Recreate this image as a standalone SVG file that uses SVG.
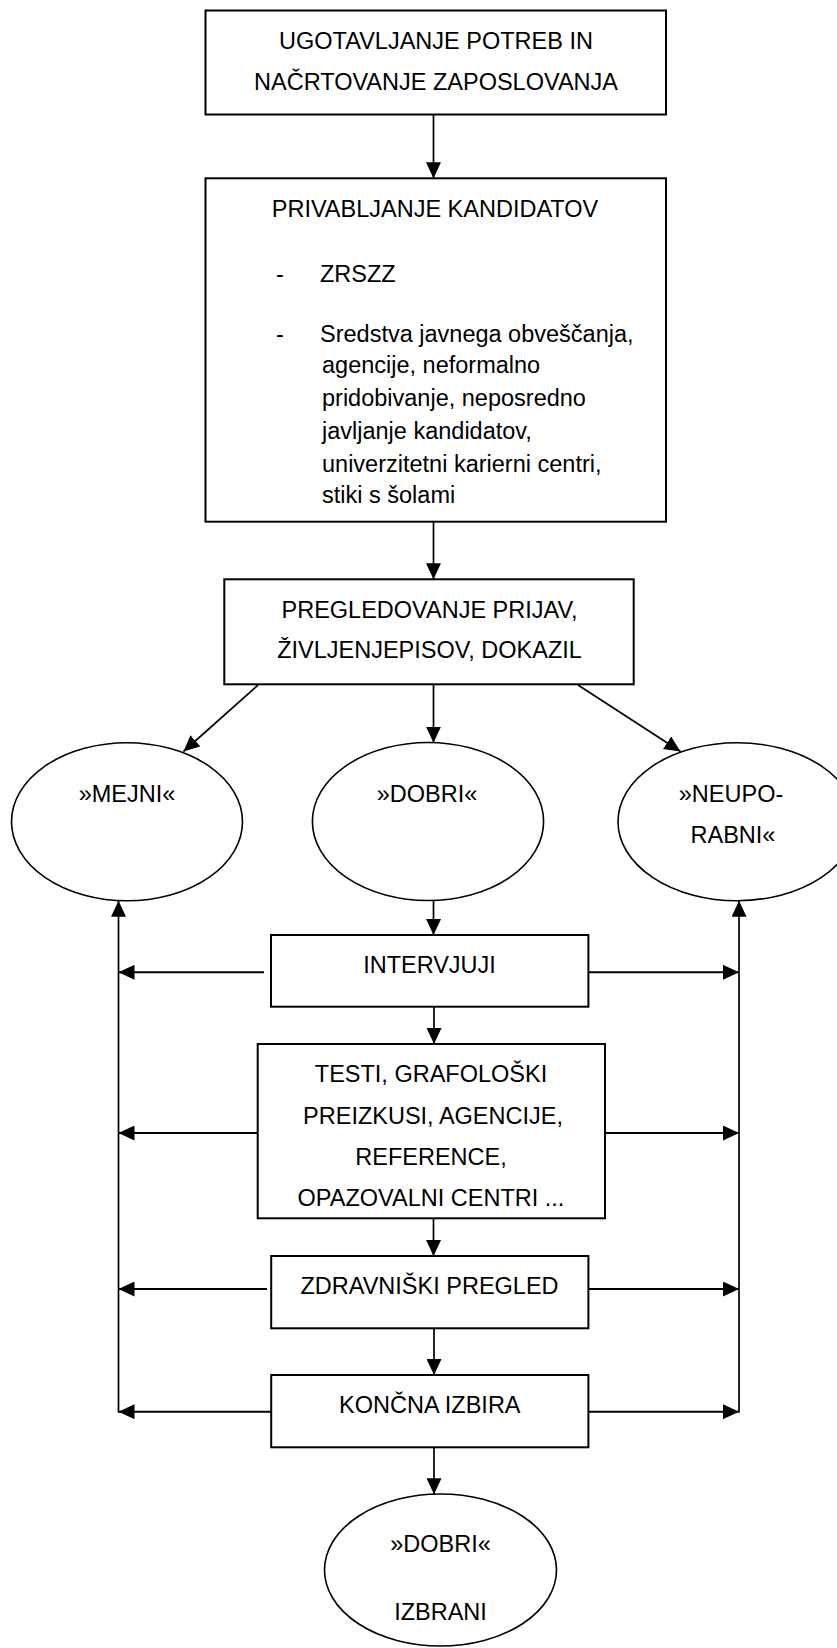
<svg xmlns="http://www.w3.org/2000/svg" width="837" height="1648" viewBox="0 0 837 1648">
<defs>
<marker id="ah" markerWidth="16" markerHeight="15" refX="16" refY="7.5" orient="auto" markerUnits="userSpaceOnUse">
<path d="M0,0 L16,7.5 L0,15 z" fill="#000"/>
</marker>
<style>
.box{fill:#fff;stroke:#000;stroke-width:2}
.ell{fill:#fff;stroke:#000;stroke-width:1.6}
.t{font-family:"Liberation Sans",Arial,sans-serif;font-size:23.5px;fill:#000}
.c{text-anchor:middle}
.conn line{stroke:#000;stroke-width:1.7;marker-end:url(#ah)}
.conn line.h{stroke-width:2.1}
</style>
</defs>
<rect width="837" height="1648" fill="#fff"/>
<g id="connectors" class="conn">
<line x1="433.5" y1="114.5" x2="433.5" y2="178.3"/>
<line x1="433.5" y1="521.7" x2="433.5" y2="579.3"/>
<line x1="258" y1="685" x2="183.5" y2="751.5"/>
<line x1="433.5" y1="684.3" x2="433.5" y2="742.7"/>
<line x1="578" y1="685" x2="680.5" y2="751.5"/>
<line x1="433.5" y1="900.5" x2="433.5" y2="935"/>
<line class="h" x1="264" y1="972.3" x2="118.5" y2="972.3"/>
<line class="h" x1="588.4" y1="972.3" x2="739" y2="972.3"/>
<line x1="434" y1="1006.7" x2="434" y2="1044"/>
<line class="h" x1="257.7" y1="1133" x2="118.5" y2="1133"/>
<line class="h" x1="605" y1="1133" x2="739" y2="1133"/>
<line x1="433.5" y1="1218.3" x2="433.5" y2="1256"/>
<line class="h" x1="267" y1="1289" x2="118.5" y2="1289"/>
<line class="h" x1="588.4" y1="1289" x2="739" y2="1289"/>
<line x1="434" y1="1328.3" x2="434" y2="1375"/>
<line class="h" x1="271.2" y1="1411.7" x2="118.5" y2="1411.7"/>
<line class="h" x1="588.4" y1="1411.7" x2="739" y2="1411.7"/>
<line x1="434" y1="1447.3" x2="434" y2="1494.3"/>
<line x1="118.5" y1="1412.5" x2="118.5" y2="900.7"/>
<line x1="739" y1="1412.5" x2="739" y2="900.7"/>
</g>
<g id="n_ugotavljanje">
<rect class="box" x="205.5" y="10.5" width="460.5" height="104"/>
<text class="t c" x="436" y="49.3">UGOTAVLJANJE POTREB IN</text>
<text class="t c" x="436" y="90">NAČRTOVANJE ZAPOSLOVANJA</text>
</g>
<g id="n_privabljanje">
<rect class="box" x="205.5" y="178.3" width="460.5" height="343.4"/>
<text class="t c" x="435" y="216.7">PRIVABLJANJE KANDIDATOV</text>
<text class="t" x="276" y="281.7">-</text>
<text class="t" x="320" y="281.7">ZRSZZ</text>
<text class="t" x="276" y="341.7">-</text>
<text class="t" x="320" y="341.7">Sredstva javnega obveščanja,</text>
<text class="t" x="322" y="373.3">agencije, neformalno</text>
<text class="t" x="322" y="405.7">pridobivanje, neposredno</text>
<text class="t" x="322" y="439.3">javljanje kandidatov,</text>
<text class="t" x="322" y="471.7">univerzitetni karierni centri,</text>
<text class="t" x="322" y="503.3">stiki s šolami</text>
</g>
<g id="n_pregledovanje">
<rect class="box" x="224.3" y="579.3" width="409.4" height="105"/>
<text class="t c" x="429.5" y="618.3">PREGLEDOVANJE PRIJAV,</text>
<text class="t c" x="429.5" y="658.3">ŽIVLJENJEPISOV, DOKAZIL</text>
</g>
<g id="n_mejni">
<ellipse class="ell" cx="127" cy="821.7" rx="115.5" ry="79"/>
<text class="t c" x="127" y="801.7">»MEJNI«</text>
</g>
<g id="n_dobri">
<ellipse class="ell" cx="428" cy="821.5" rx="115.6" ry="79"/>
<text class="t c" x="427" y="801.5">»DOBRI«</text>
</g>
<g id="n_neuporabni">
<ellipse class="ell" cx="737" cy="821.7" rx="119" ry="79"/>
<text class="t c" x="731" y="801.7">»NEUPO-</text>
<text class="t c" x="733" y="842.7">RABNI«</text>
</g>
<g id="n_intervjuji">
<rect class="box" x="271" y="935" width="317.4" height="71.7"/>
<text class="t c" x="429.5" y="973.3">INTERVJUJI</text>
</g>
<g id="n_testi">
<rect class="box" x="257.7" y="1044" width="347.3" height="174.3"/>
<text class="t c" x="431" y="1082.3">TESTI, GRAFOLOŠKI</text>
<text class="t c" x="433" y="1124">PREIZKUSI, AGENCIJE,</text>
<text class="t c" x="431" y="1165">REFERENCE,</text>
<text class="t c" x="431" y="1206">OPAZOVALNI CENTRI ...</text>
</g>
<g id="n_zdravniski">
<rect class="box" x="271.2" y="1256" width="317.2" height="72.3"/>
<text class="t c" x="429.5" y="1294.3">ZDRAVNIŠKI PREGLED</text>
</g>
<g id="n_koncna">
<rect class="box" x="271.2" y="1375" width="317.2" height="72.3"/>
<text class="t c" x="429.8" y="1413.3">KONČNA IZBIRA</text>
</g>
<g id="n_izbrani">
<ellipse class="ell" cx="440.5" cy="1570" rx="116" ry="76"/>
<text class="t c" x="440.5" y="1551.7">»DOBRI«</text>
<text class="t c" x="440.5" y="1620">IZBRANI</text>
</g>
</svg>
